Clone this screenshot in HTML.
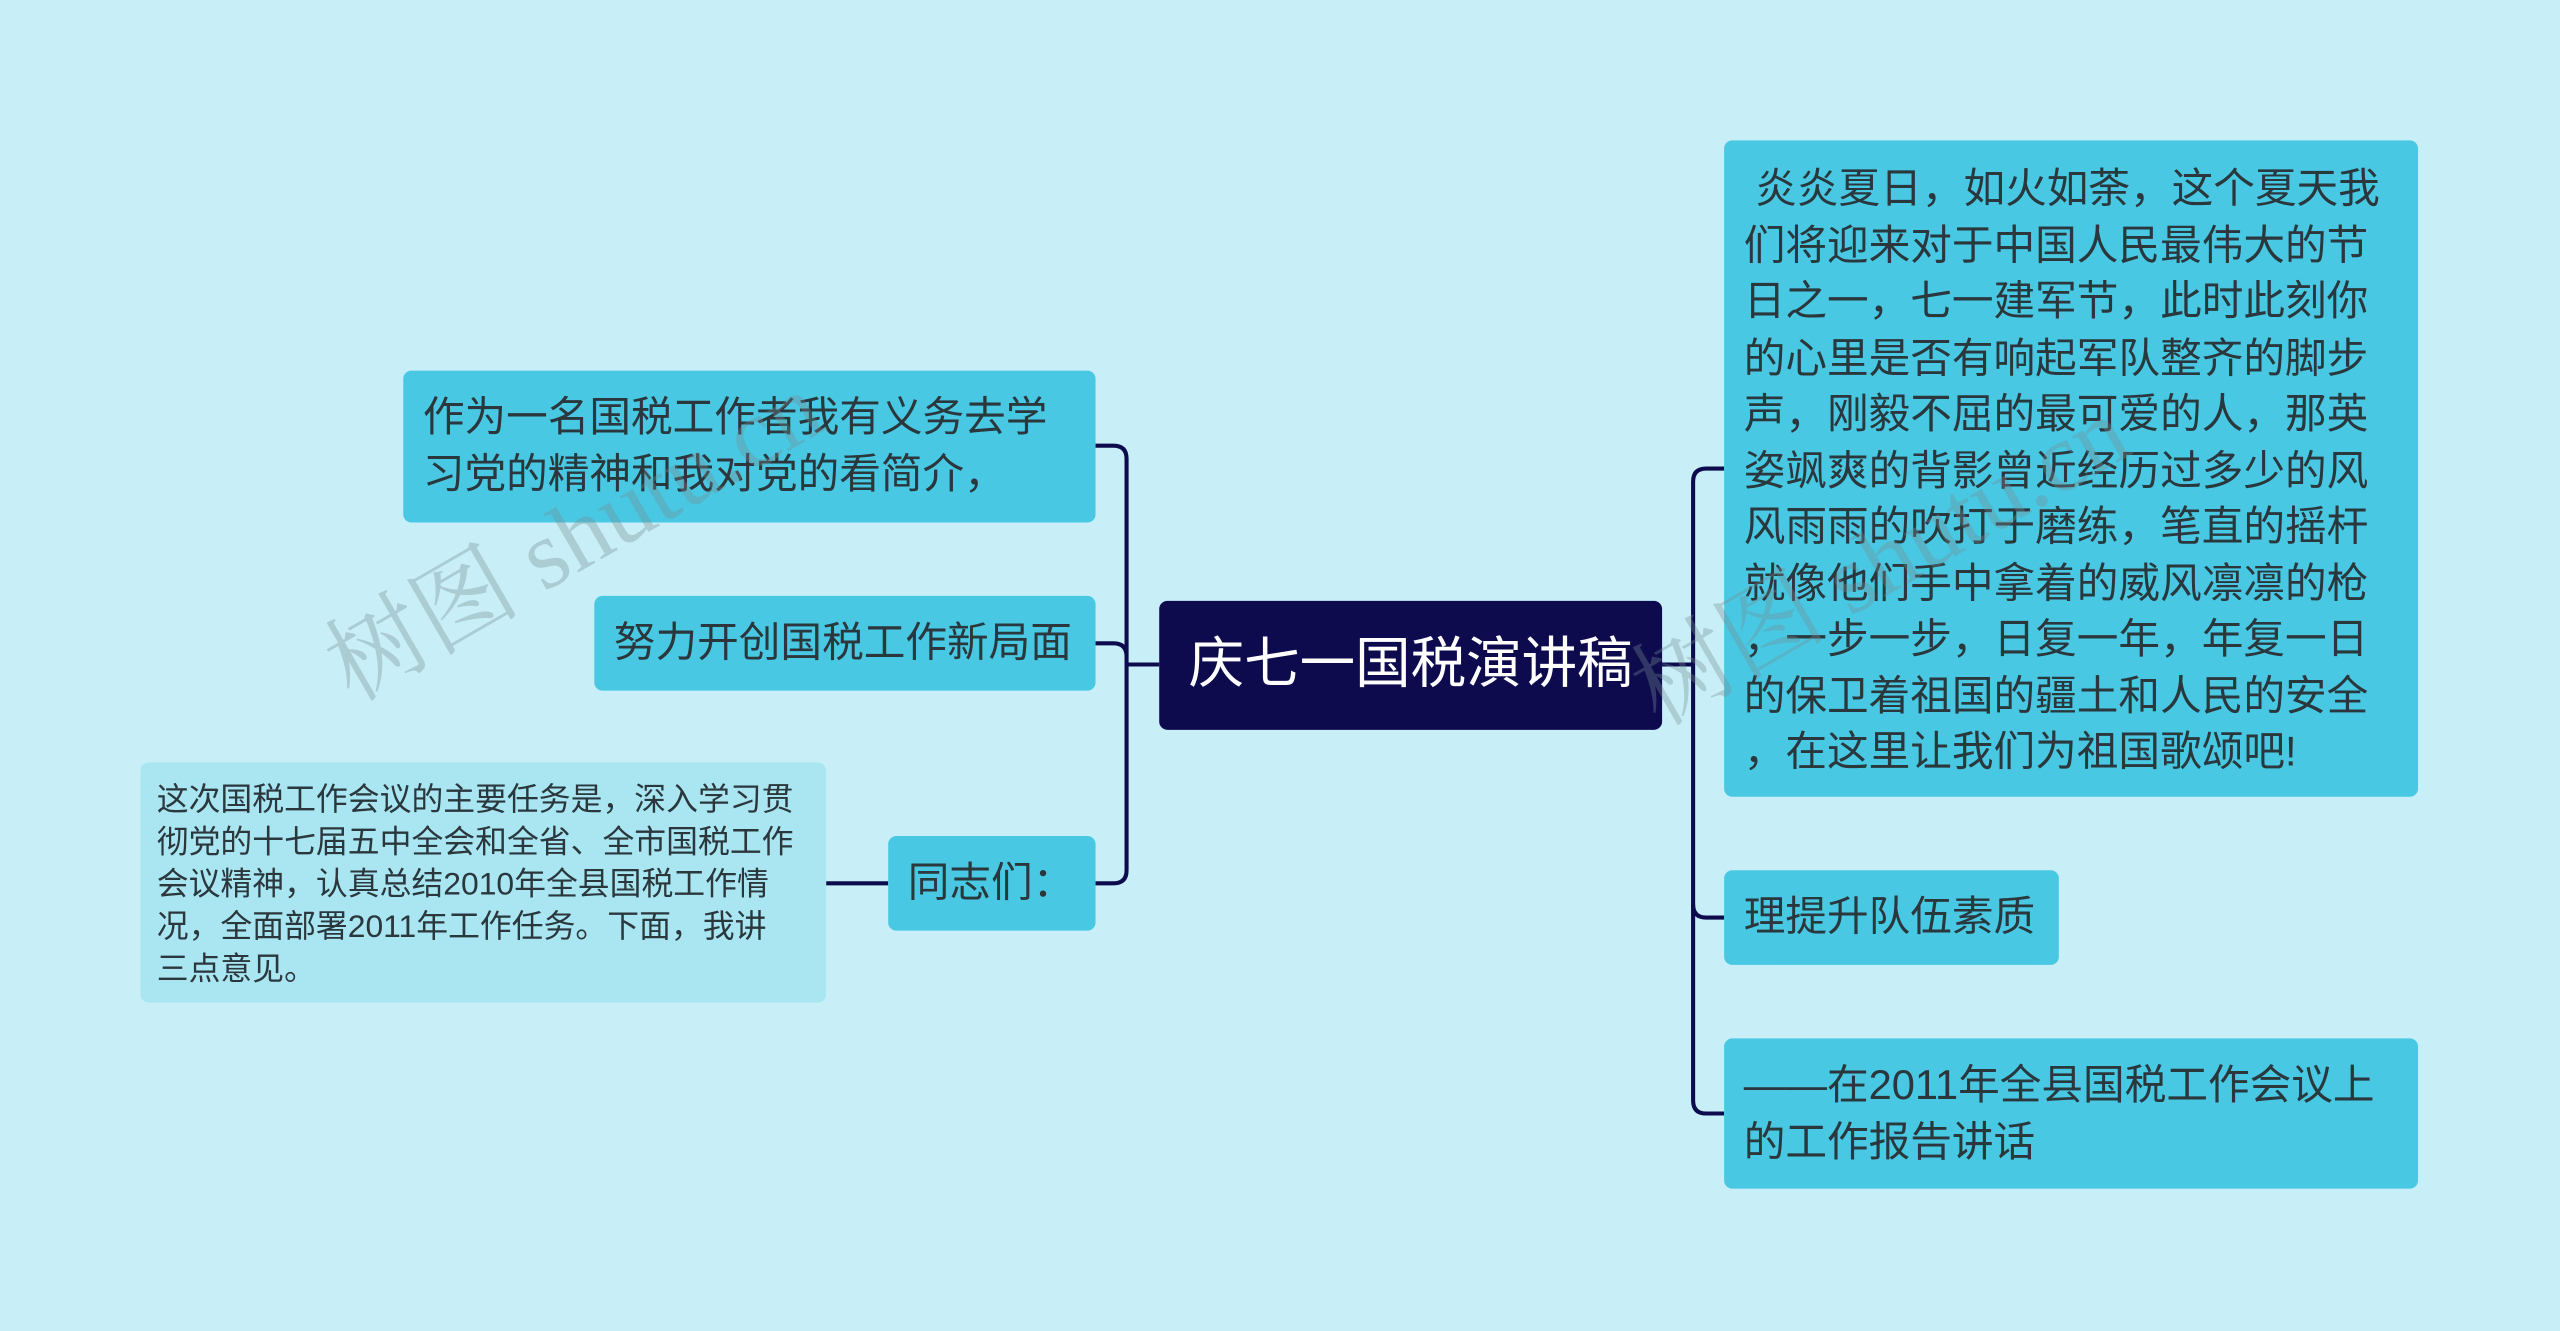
<!DOCTYPE html>
<html><head><meta charset="utf-8"><style>
html,body{margin:0;padding:0;width:2560px;height:1331px;overflow:hidden;background:#c8eff7;}
#w{position:absolute;left:0;top:0;width:1568px;height:815px;transform:scale(1.6327);transform-origin:0 0;font-family:"Liberation Sans","Noto Sans CJK SC",sans-serif;}
.n{position:absolute;background:#48c8e3;border-radius:5px;color:#2a373c;font-size:25.5px;line-height:34.5px;box-sizing:border-box;padding:10px 12px;white-space:nowrap;}
.wm{position:absolute;z-index:5;color:rgba(120,140,145,0.35);font-family:"Liberation Serif","Noto Serif CJK SC",serif;font-size:60px;transform:rotate(-30deg);transform-origin:0 100%;white-space:nowrap;}
</style></head><body><div id="w">
<svg width="1568" height="815" style="position:absolute;left:0;top:0" fill="none" stroke="#0d0b4e" stroke-width="2.5">
<path d="M710 407 H690"/>
<path d="M671 273 H682 Q690 273 690 281 V533 Q690 541 682 541 H671"/>
<path d="M671 394 H682 Q690 394 690 402"/>
<path d="M1018 407 H1037"/>
<path d="M1056 287 H1045 Q1037 287 1037 295 V674 Q1037 682 1045 682 H1056"/>
<path d="M1056 562 H1045 Q1037 562 1037 554"/>
<path d="M506 541 H544"/>
</svg>
<div class="wm" style="left:225px;top:360px">树图 shutu.cn</div>
<div class="wm" style="left:1025px;top:375px">树图 shutu.cn</div>
<div class="n" style="left:710px;top:368px;width:308px;height:79px;background:#0d0b4e;color:#fff;font-size:34px;line-height:79px;padding:0;text-align:center;">庆七一国税演讲稿</div>
<div class="n" style="left:247px;top:227px;width:424px;height:93px;padding-top:12px">作为一名国税工作者我有义务去学<br>习党的精神和我对党的看简介，</div>
<div class="n" style="left:364px;top:365px;width:307px;height:58px;line-height:58px;padding-top:0">努力开创国税工作新局面</div>
<div class="n" style="left:544px;top:512px;width:127px;height:58px;line-height:58px;padding-top:0">同志们：</div>
<div class="n" style="left:86px;top:467px;width:420px;height:147px;background:#a9e6f2;font-size:19.5px;line-height:26px;padding:10px 10px">这次国税工作会议的主要任务是，深入学习贯<br>彻党的十七届五中全会和全省、全市国税工作<br>会议精神，认真总结2010年全县国税工作情<br>况，全面部署2011年工作任务。下面，我讲<br>三点意见。</div>
<div class="n" style="left:1056px;top:86px;width:425px;height:402px;padding-top:13px">&nbsp;炎炎夏日，如火如荼，这个夏天我<br>们将迎来对于中国人民最伟大的节<br>日之一，七一建军节，此时此刻你<br>的心里是否有响起军队整齐的脚步<br>声，刚毅不屈的最可爱的人，那英<br>姿飒爽的背影曾近经历过多少的风<br>风雨雨的吹打于磨练，笔直的摇杆<br>就像他们手中拿着的威风凛凛的枪<br>，一步一步，日复一年，年复一日<br>的保卫着祖国的疆土和人民的安全<br>，在这里让我们为祖国歌颂吧!</div>
<div class="n" style="left:1056px;top:533px;width:205px;height:58px;line-height:58px;padding-top:0">理提升队伍素质</div>
<div class="n" style="left:1056px;top:636px;width:425px;height:92px;padding-top:12px">——在2011年全县国税工作会议上<br>的工作报告讲话</div>
</div></body></html>
